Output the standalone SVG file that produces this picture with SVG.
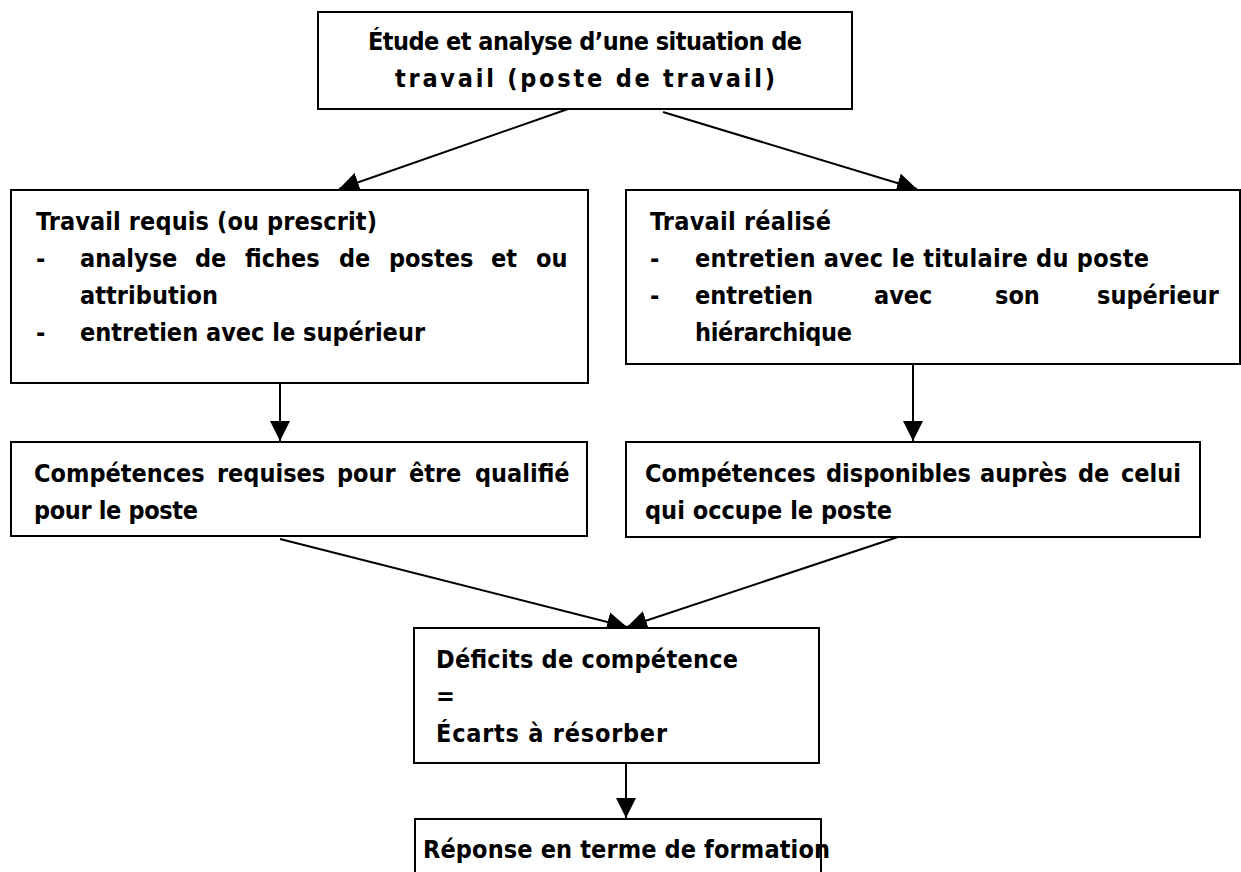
<svg xmlns="http://www.w3.org/2000/svg" width="1241" height="872" viewBox="0 0 1241 872">
<style>
.box{fill:#fff;stroke:#000;stroke-width:2}
.t{font-family:"DejaVu Sans Condensed","DejaVu Sans",sans-serif;font-stretch:condensed;font-weight:bold;font-size:25px;fill:#000}
.c{stroke:#000;stroke-width:2;fill:none;marker-end:url(#ah)}
</style>
<defs>
<marker id="ah" markerWidth="20" markerHeight="20" viewBox="0 0 20 20" refX="20" refY="10" orient="auto" markerUnits="userSpaceOnUse">
<path d="M0,0 L20,10 L0,20 z" fill="#000"/>
</marker>
</defs>
<rect width="1241" height="872" fill="#fff"/>
<g id="connectors">
<line class="c" x1="568" y1="109" x2="339" y2="189"/>
<line class="c" x1="663" y1="112" x2="917" y2="189"/>
<line class="c" x1="280" y1="384" x2="280" y2="441"/>
<line class="c" x1="913" y1="365" x2="913" y2="441"/>
<line class="c" x1="280" y1="539" x2="627" y2="627"/>
<line class="c" x1="913" y1="532" x2="627" y2="627"/>
<line class="c" x1="626" y1="764" x2="626" y2="818"/>
</g>
<g id="n1">
<rect class="box" x="318" y="12" width="534" height="97"/>
<text class="t" x="368" y="50" textLength="434" lengthAdjust="spacing">Étude et analyse d’une situation de</text>
<text class="t" x="395" y="87" textLength="380" lengthAdjust="spacing">travail (poste de travail)</text>
</g>
<g id="n2">
<rect class="box" x="11" y="190" width="577" height="193"/>
<text class="t" x="36" y="230" textLength="341" lengthAdjust="spacing">Travail requis (ou prescrit)</text>
<text class="t" x="36" y="267">-</text>
<text class="t" y="267"><tspan x="80">analyse</tspan><tspan x="195">de</tspan><tspan x="245">fiches</tspan><tspan x="339">de</tspan><tspan x="389">postes</tspan><tspan x="491">et</tspan><tspan x="536">ou</tspan></text>
<text class="t" x="80" y="304" textLength="138" lengthAdjust="spacing">attribution</text>
<text class="t" x="36" y="341">-</text>
<text class="t" x="80" y="341" textLength="345" lengthAdjust="spacing">entretien avec le supérieur</text>
</g>
<g id="n3">
<rect class="box" x="626" y="190" width="614" height="174"/>
<text class="t" x="650" y="230" textLength="181" lengthAdjust="spacing">Travail réalisé</text>
<text class="t" x="650" y="267">-</text>
<text class="t" x="695" y="267" textLength="454" lengthAdjust="spacing">entretien avec le titulaire du poste</text>
<text class="t" x="650" y="304">-</text>
<text class="t" y="304"><tspan x="695">entretien</tspan><tspan x="874">avec</tspan><tspan x="995">son</tspan><tspan x="1097">supérieur</tspan></text>
<text class="t" x="695" y="341" textLength="157" lengthAdjust="spacing">hiérarchique</text>
</g>
<g id="n4">
<rect class="box" x="11" y="442" width="576" height="94"/>
<text class="t" y="482"><tspan x="34">Compétences</tspan><tspan x="217">requises</tspan><tspan x="337">pour</tspan><tspan x="409">être</tspan><tspan x="475">qualifié</tspan></text>
<text class="t" x="34" y="519" textLength="164" lengthAdjust="spacing">pour le poste</text>
</g>
<g id="n5">
<rect class="box" x="626" y="442" width="574" height="95"/>
<text class="t" y="482"><tspan x="645">Compétences</tspan><tspan x="826">disponibles</tspan><tspan x="980">auprès</tspan><tspan x="1078">de</tspan><tspan x="1121">celui</tspan></text>
<text class="t" x="645" y="519" textLength="247" lengthAdjust="spacing">qui occupe le poste</text>
</g>
<g id="n6">
<rect class="box" x="414" y="628" width="405" height="135"/>
<text class="t" x="436" y="668" textLength="302" lengthAdjust="spacing">Déficits de compétence</text>
<text class="t" x="436" y="705">=</text>
<text class="t" x="436" y="742" textLength="231" lengthAdjust="spacing">Écarts à résorber</text>
</g>
<g id="n7">
<rect class="box" x="415" y="819" width="406" height="70"/>
<text class="t" x="423" y="858" textLength="407" lengthAdjust="spacing">Réponse en terme de formation</text>
</g>
</svg>
